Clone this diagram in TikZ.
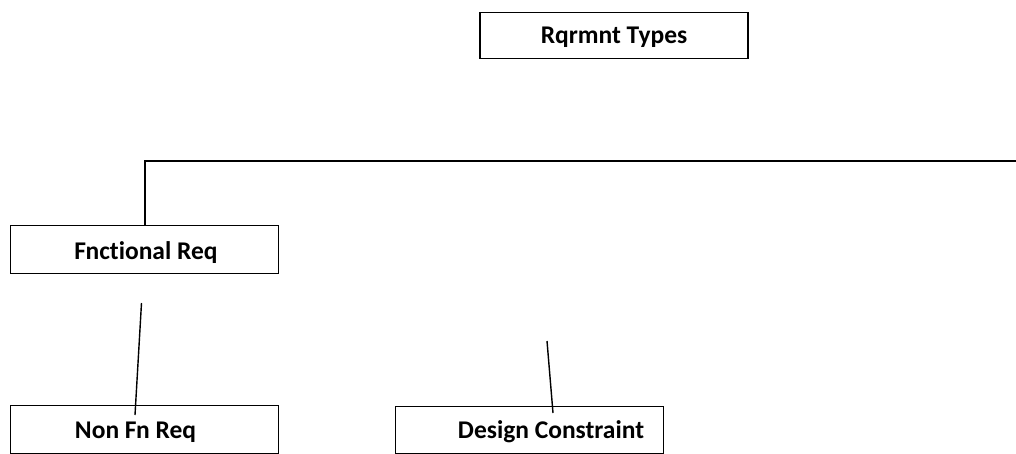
\documentclass[tikz,border=0pt]{standalone}
\usepackage{fontspec}
\setmainfont{Carlito}[Ligatures=NoCommon]
\begin{document}
\begin{tikzpicture}[x=1pt,y=-1pt,
  box/.style={draw=black,line width=0.9pt,minimum width=268pt,minimum height=47pt,inner sep=0pt},
  lbl/.style={anchor=base,inner sep=0pt,font=\bfseries\fontsize{25.5}{28}\selectfont},
  link/.style={draw=black,line width=1.4pt}]
\useasboundingbox (0,0) rectangle (1016,454);
% boxes
\node[box,line width=1.4pt,minimum height=46pt] (types) at (614,35.5) {};
\node[box,minimum height=48pt] (func) at (144,249) {};
\node[box,minimum height=48pt] (nonfn) at (144,429) {};
\node[box,minimum height=47pt] (design) at (529,429.5) {};
% box captions
\node[lbl] (typestext) at (614,43.5) {Rqrmnt Types};
\node[lbl] (functext) at (146,259) {Fnctional Req};
\node[lbl] (nonfntext) at (135.5,438) {Non Fn Req};
\node[lbl] (designtext) at (551,438) {Design Constraint};
% branch line from the functional box off to the right edge
\coordinate (rightend) at (1016,161);
\draw[link] (func.north -| 145,0) -- (145,161) -- (rightend);
% loose connectors
\coordinate (nftop) at (141.5,303);
\coordinate (nfbot) at (135,415);
\draw[link] (nftop) -- (nfbot);
\coordinate (dctop) at (547,341);
\coordinate (dcbot) at (553,413);
\draw[link] (dctop) -- (dcbot);
\end{tikzpicture}
\end{document}
